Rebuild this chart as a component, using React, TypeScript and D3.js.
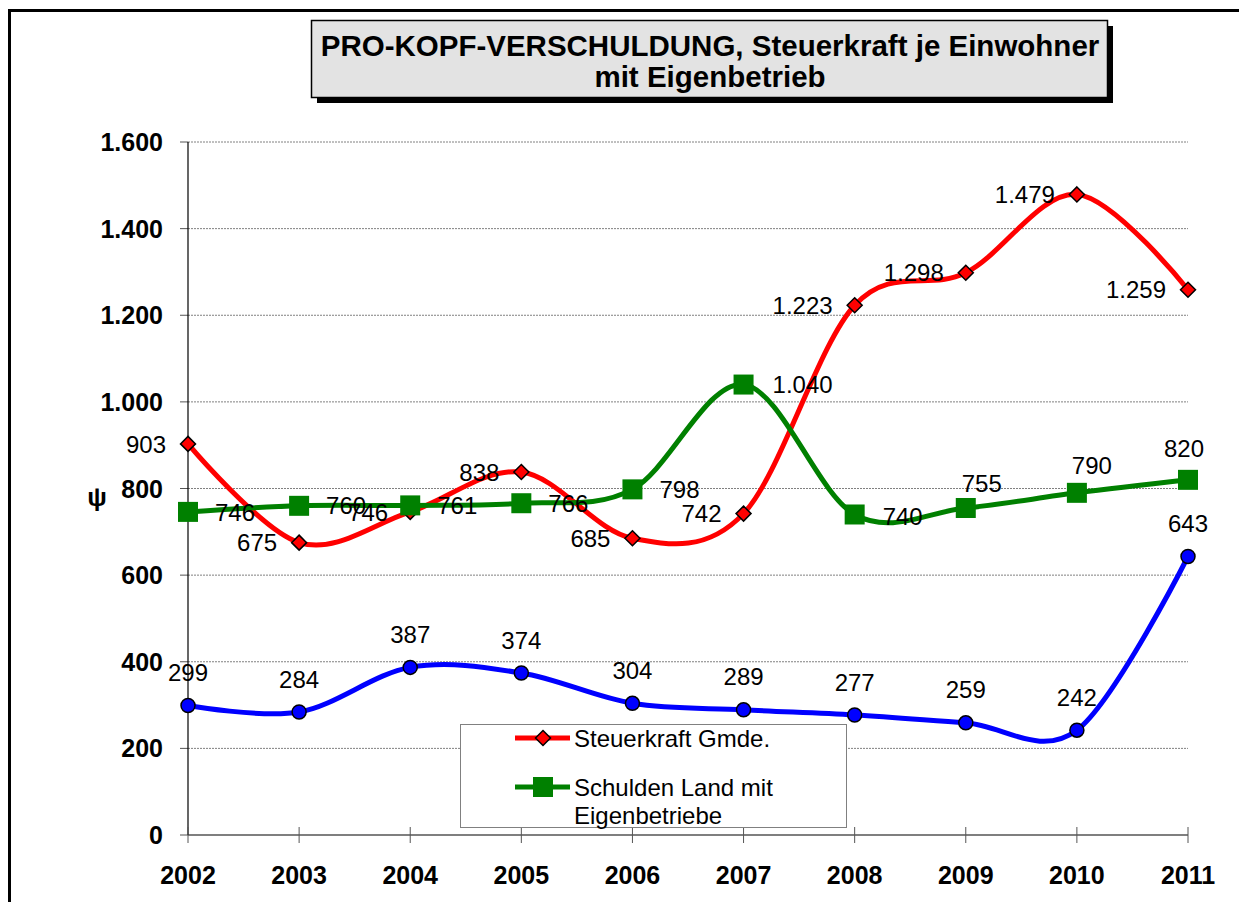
import React from "react";
import * as d3 from "d3";

const years = ["2002", "2003", "2004", "2005", "2006", "2007", "2008", "2009", "2010", "2011"];
const steuerkraft = [903, 675, 746, 838, 685, 742, 1223, 1298, 1479, 1259];
const schuldenLand = [746, 760, 761, 766, 798, 1040, 740, 755, 790, 820];
const schuldenGmde = [299, 284, 387, 374, 304, 289, 277, 259, 242, 643];
const yTicks = [0, 200, 400, 600, 800, 1000, 1200, 1400, 1600];
const titleLines = ["PRO-KOPF-VERSCHULDUNG, Steuerkraft je Einwohner", "mit Eigenbetrieb"];
const legendRed = "Steuerkraft Gmde.";
const legendGreen = ["Schulden Land mit", "Eigenbetriebe"];

// label placement offsets for the green series (dx, dy, anchor)
const greenLabelPos: [number, number, string][] = [
  [27, 0, "start"], [27, 0, "start"], [27, 0, "start"], [27, 0, "start"], [27, 0, "start"],
  [29, 0, "start"], [28, 2, "start"], [16, -25, "middle"], [15, -27, "middle"], [-4, -31, "middle"],
];

const de = d3.formatLocale({ decimal: ",", thousands: ".", grouping: [3], currency: ["", "€"] });
const fmt = de.format(",d");

const FONT = "Arial, 'Liberation Sans', Helvetica, sans-serif";

export default function App() {
  const x = d3.scalePoint<string>().domain(years).range([188, 1188]);
  const y = d3.scaleLinear().domain([0, 1600]).range([835, 142]);
  const line = d3
    .line<number>()
    .x((_, i) => x(years[i]) as number)
    .y((d) => y(d))
    .curve(d3.curveCardinal.tension(0));

  const diamond = (cx: number, cy: number, r: number) =>
    `M${cx},${cy - r}L${cx + r},${cy}L${cx},${cy + r}L${cx - r},${cy}Z`;

  return (
    <svg
      width={1239}
      height={902}
      style={{ position: "absolute", left: 0, top: 0, background: "#fff" }}
      fontFamily={FONT}
    >
      <rect x={0} y={0} width={1239} height={902} fill="#fff" />
      {/* outer frame */}
      <rect x={9.5} y={10.5} width={1400} height={1000} fill="none" stroke="#000" strokeWidth={3} />

      {/* title box */}
      <rect x={317} y={26} width={796} height={77} fill="#000" />
      <rect x={311.5} y={20.5} width={796} height={77} fill="#e3e3e3" stroke="#000" strokeWidth={1.5} />
      {titleLines.map((t, i) => (
        <text key={i} x={710} y={56 + i * 31} textAnchor="middle" fontWeight="bold" fontSize={29.5} fill="#000">
          {t}
        </text>
      ))}

      {/* gridlines */}
      {yTicks.slice(1).map((v) => (
        <line key={v} x1={188} x2={1188} y1={y(v)} y2={y(v)} stroke="#808080" strokeWidth={1} strokeDasharray="2,1" />
      ))}
      {/* y ticks + labels */}
      {yTicks.map((v) => (
        <g key={v}>
          <line x1={180} x2={188} y1={y(v)} y2={y(v)} stroke="#555" strokeWidth={1} />
          <text x={163} y={y(v)} dy="0.36em" textAnchor="end" fontWeight="bold" fontSize={25} fill="#000">
            {fmt(v)}
          </text>
        </g>
      ))}
      {/* axes */}
      <line x1={188} x2={188} y1={142} y2={835} stroke="#000" strokeWidth={1.2} />
      <line x1={188} x2={1188} y1={835} y2={835} stroke="#000" strokeWidth={1.2} />
      {years.map((yr) => (
        <g key={yr}>
          <line x1={x(yr)} x2={x(yr)} y1={827} y2={843} stroke="#555" strokeWidth={1} />
          <text x={x(yr)} y={884} textAnchor="middle" fontWeight="bold" fontSize={25} fill="#000">
            {yr}
          </text>
        </g>
      ))}
      {/* y axis title */}
      <text x={97} y={497} dy="0.36em" textAnchor="middle" fontWeight="bold" fontSize={26} fill="#000">
        ψ
      </text>

      {/* series lines */}
      <path d={line(schuldenGmde) || ""} fill="none" stroke="#0000ff" strokeWidth={5} />
      <path d={line(steuerkraft) || ""} fill="none" stroke="#ff0000" strokeWidth={5} />
      <path d={line(schuldenLand) || ""} fill="none" stroke="#008000" strokeWidth={5} />

      {/* markers */}
      {schuldenGmde.map((v, i) => (
        <circle key={"b" + i} cx={x(years[i])} cy={y(v)} r={7} fill="#0000ff" stroke="#000" strokeWidth={1.5} />
      ))}
      {steuerkraft.map((v, i) => (
        <path key={"r" + i} d={diamond(x(years[i]) as number, y(v), 7.5)} fill="#ff0000" stroke="#000" strokeWidth={1.5} />
      ))}
      {schuldenLand.map((v, i) => (
        <rect key={"g" + i} x={(x(years[i]) as number) - 10} y={y(v) - 10} width={20} height={20} fill="#008000" />
      ))}

      {/* data labels */}
      {schuldenGmde.map((v, i) => (
        <text key={"bl" + i} x={x(years[i])} y={y(v) - 33} dy="0.36em" textAnchor="middle" fontSize={24} fill="#000">
          {fmt(v)}
        </text>
      ))}
      {steuerkraft.map((v, i) => (
        <text key={"rl" + i} x={(x(years[i]) as number) - 22} y={y(v)} dy="0.36em" textAnchor="end" fontSize={24} fill="#000">
          {fmt(v)}
        </text>
      ))}
      {schuldenLand.map((v, i) => (
        <text
          key={"gl" + i}
          x={(x(years[i]) as number) + greenLabelPos[i][0]}
          y={y(v) + greenLabelPos[i][1]}
          dy="0.36em"
          textAnchor={greenLabelPos[i][2] as any}
          fontSize={24}
          fill="#000"
        >
          {fmt(v)}
        </text>
      ))}

      {/* legend */}
      <rect x={460.5} y={724.5} width={386} height={103} fill="#fff" stroke="#808080" strokeWidth={1} />
      <line x1={515} x2={570} y1={738} y2={738} stroke="#ff0000" strokeWidth={5} />
      <path d={diamond(543, 738, 7.5)} fill="#ff0000" stroke="#000" strokeWidth={1.5} />
      <text x={574} y={738} dy="0.36em" fontSize={24} fill="#000">
        {legendRed}
      </text>
      <line x1={515} x2={570} y1={787} y2={787} stroke="#008000" strokeWidth={5} />
      <rect x={533} y={777} width={20} height={20} fill="#008000" />
      {legendGreen.map((t, i) => (
        <text key={i} x={574} y={787 + i * 28} dy="0.36em" fontSize={24} fill="#000">
          {t}
        </text>
      ))}
    </svg>
  );
}
